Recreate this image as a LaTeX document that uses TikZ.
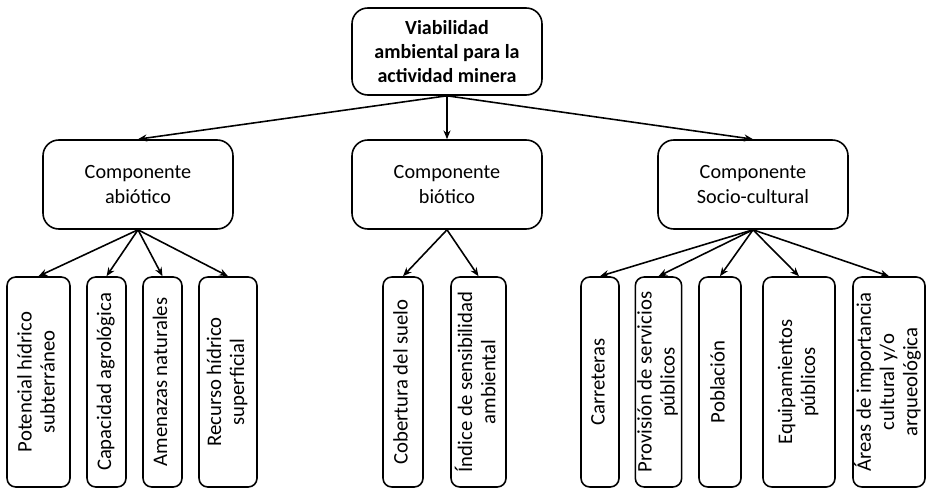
\documentclass[tikz,border=0pt]{standalone}
\usepackage{fontspec}
\setmainfont{Carlito}
\usepackage{graphicx}
\usetikzlibrary{arrows.meta}

\newcommand\pxu{0.02cm}
\newcommand\vlab[1]{\rotatebox{90}{\begin{tabular}{@{}c@{}}#1\end{tabular}}}

\tikzset{
  box/.style={draw, line width=0.9pt, align=center, inner sep=0pt,
    font=\fontsize{11.5}{14}\selectfont},
  topbox/.style={box, rounded corners=9pt, minimum width=190*\pxu,
    minimum height=87*\pxu, font=\fontsize{11.4}{13.8}\selectfont\bfseries},
  compbox/.style={box, rounded corners=9pt, minimum width=190*\pxu,
    minimum height=89*\pxu},
  leafbox/.style={box, rounded corners=5pt, minimum height=210*\pxu,
    minimum width=#1*\pxu, font=\fontsize{11.8}{13.2}\selectfont},
  link/.style={line width=0.9pt, -{Stealth[length=5pt,width=4pt]}}
}

\begin{document}
\begin{tikzpicture}[x=\pxu,y=-\pxu]
  \useasboundingbox (0,0) rectangle (926,489);

  % Root
  \node[topbox] (root) at (447,51.5) {Viabilidad\\ambiental para la\\actividad minera};

  % Components
  \node[compbox] (abio) at (138,184.5) {Componente\\abiótico};
  \node[compbox] (bio)  at (447,184.5) {Componente\\biótico};
  \node[compbox] (soc)  at (753,184.5) {Componente\\Socio-cultural};

  % Abiotic factors
  \node[leafbox=63] (pot) at (38.5,382) {\vlab{Potencial hídrico\\subterráneo}};
  \node[leafbox=39] (cap) at (106.5,382) {\vlab{Capacidad agrológica}};
  \node[leafbox=39] (ame) at (162.5,382) {\vlab{Amenazas naturales}};
  \node[leafbox=58] (rec) at (228,382) {\vlab{Recurso hídrico\\superficial}};

  % Biotic factors
  \node[leafbox=40] (cob) at (403,382) {\vlab{Cobertura del suelo}};
  \node[leafbox=55] (ind) at (478.5,382) {\vlab{Índice de sensibilidad\\ambiental}};

  % Socio-cultural factors
  \node[leafbox=38] (car) at (600,382) {\vlab{Carreteras}};
  \node[leafbox=45] (pro) at (658.5,382) {\vlab{Provisión de servicios\\públicos}};
  \node[leafbox=42] (pob) at (720,382) {\vlab{Población}};
  \node[leafbox=72] (equ) at (799,382) {\vlab{Equipamientos\\públicos}};
  \node[leafbox=72] (are) at (889,382) {\vlab{Áreas de importancia\\cultural y/o\\arqueológica}};

  % Links
  \foreach \n in {abio,bio,soc}
    \draw[link] (root.south) -- (\n.north);
  \foreach \n in {pot,cap,ame,rec}
    \draw[link] (abio.south) -- (\n.north);
  \foreach \n in {cob,ind}
    \draw[link] (bio.south) -- (\n.north);
  \foreach \n in {car,pro,pob,equ,are}
    \draw[link] (soc.south) -- (\n.north);
\end{tikzpicture}
\end{document}
